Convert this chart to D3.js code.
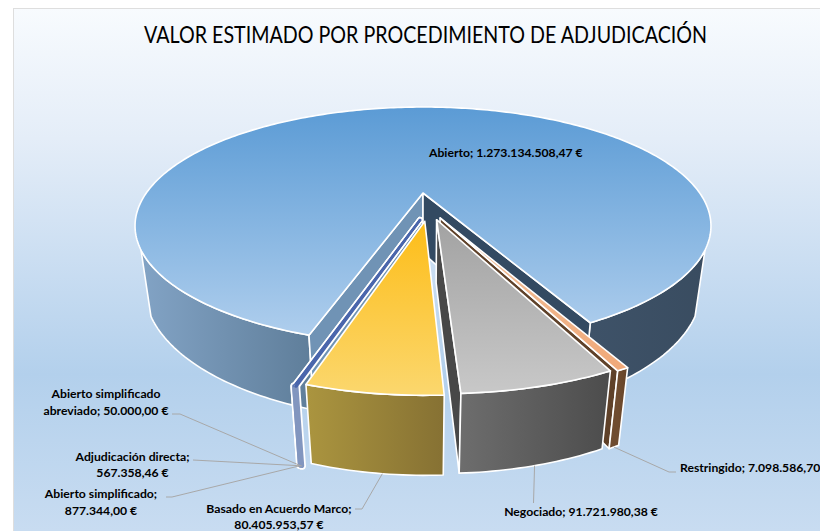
<!DOCTYPE html>
<html><head><meta charset="utf-8">
<script src="https://cdn.jsdelivr.net/npm/d3@7"></script>
<style>html,body{margin:0;padding:0;background:#fff;overflow:hidden}svg{display:block}text{font-family:Lato,"Open Sans",sans-serif}</style>
</head><body><svg id="c" width="820" height="531"></svg>
<script>
const titleText = "VALOR ESTIMADO POR PROCEDIMIENTO DE ADJUDICACIÓN";
const categories = ["Abierto","Restringido","Negociado","Basado en Acuerdo Marco","Adjudicación directa","Abierto simplificado","Abierto simplificado abreviado"];
const values = [1273134508.47,7098586.70,91721980.38,80405953.57,567358.46,877344.00,50000.00];

// ---- layout / style (not data)
const W=820,H=531;
const cam={cx:423,cy:193,A:276.7,B:109.8,Hz:62,p:0.277,q:0.032};
const explode=[[0,0,1],[.058,.214,1],[.046,.228,.985],[.006,.24,.98],[-.01,.23,1],[-.01,.23,1],[-.01,.23,1]];
const labelLayout=[
 {x:429,y:157,anchor:"start",single:true},
 {x:680,y:472,anchor:"start",single:true,from:[676,472],mid:[669,472]},
 {x:581,y:516,anchor:"middle",single:true,from:[533.5,503],mid:null,at:0},
 {x:279,y:[513,529],anchor:"middle",split:true,from:[355,509],mid:[362,509],at:-.05},
 {x:132.5,y:[461,477],anchor:"middle",split:true,from:[193,460],mid:null},
 {x:101,y:[498,515],anchor:"middle",split:true,from:[166,497],mid:[172,497]},
 {x:106,y:[398,415],anchor:"middle",splitWords:2,from:[172,414],mid:[180,414]}
];
const styles=[
 {top:["#5b9bd5","#b2d0ee"]},
 {top:["#f1c4a0","#f0a878"],wall:["#6f4c30","#664428"],cut:"#5f4129"},
 {top:["#a2a2a2","#c8c8c8"],wall:["#6d6d6d","#4c4c4c"],cut:"#484848"},
 {top:["#fdbd18","#fbd76e"],wall:["#ab953f","#867133"]},
 {top:["#4a66ac","#4a66ac"],wall:["#8296bf","#8296bf"],thin:true},
 {top:["#4a66ac","#4a66ac"],wall:["#8296bf","#8296bf"],thin:true},
 {top:["#4a66ac","#4a66ac"],wall:["#8296bf","#8296bf"],thin:true}
];

const rad=d=>d*Math.PI/180;
const svg=d3.select("#c");
const defs=svg.append("defs");
let gid=0;
function grad(c0,c1,x1,y1,x2,y2,extra){
  const id="g"+(gid++);
  const g=defs.append("linearGradient").attr("id",id).attr("gradientUnits","userSpaceOnUse")
    .attr("x1",x1).attr("y1",y1).attr("x2",x2).attr("y2",y2);
  const stops=extra||[[0,c0],[1,c1]];
  stops.forEach(s=>g.append("stop").attr("offset",s[0]).attr("stop-color",s[1]));
  return `url(#${id})`;
}
function proj(X,Y,z){const w=1-cam.p*Y+cam.q*z;return [cam.cx+cam.A*X/w,cam.cy+(cam.B*Y+cam.Hz*z)/w];}
const line=d3.line();
function pt(i,a,r,z){const e=explode[i];const R=r*e[2];return proj(e[0]+R*Math.sin(a),e[1]-R*Math.cos(a),z);}
function rim(i,a0,a1,z){const n=Math.max(2,Math.ceil(Math.abs(a1-a0)/rad(1)));
  return d3.range(n+1).map(k=>pt(i,a0+(a1-a0)*k/n,1,z));}
function face(pts,fill,sw=1.6,st="#fff"){
  return svg.append("path").attr("d",line(pts)+"Z").attr("fill",fill).attr("stroke",st).attr("stroke-width",sw).attr("stroke-linejoin","round");
}

// background
svg.append("rect").attr("x",13.5).attr("y",8.5).attr("width",W).attr("height",H)
  .attr("fill",grad(0,0,0,8,0,531,[[0,"#f8fbfe"],[.25,"#e4edf8"],[.7,"#b3d0ec"],[1,"#c8dcf1"]]))
  .attr("stroke","#dedede");

svg.append("text").attr("transform","translate(425.5,43) scale(0.82,1)").attr("text-anchor","middle")
  .attr("font-size",24).attr("fill","#000").text(titleText);

const arcs=d3.pie().sort(null).value(d=>d).startAngle(rad(-162.34)).endAngle(rad(197.66))(values);
const s0=arcs[0];

// main slice: outer wall, the two front-facing stretches up to the silhouette
const leftEnd=rad(180+63),rightEnd=rad(180-63);
face([...rim(0,s0.startAngle+rad(360),leftEnd,0),...rim(0,leftEnd,s0.startAngle+rad(360),1)],
  grad("#83a4c6","#5f7e9a",137,0,312,0));
face([...rim(0,s0.endAngle,rightEnd,0),...rim(0,rightEnd,s0.endAngle,1)],
  grad("#3e5268","#394c60",590,0,710,0));
// main slice: cut walls
face([pt(0,0,0,0),pt(0,s0.startAngle,1,0),pt(0,s0.startAngle,1,1),pt(0,0,0,1)],"#7093b5");
face([pt(0,0,0,0),pt(0,s0.endAngle,1,0),pt(0,s0.endAngle,1,1),pt(0,0,0,1)],"#334a62");
// main slice: top
face([pt(0,0,0,0),...rim(0,s0.startAngle,s0.endAngle,0)],grad(...styles[0].top,0,107,0,345));

function slice(i){
  const a=arcs[i],st=styles[i];
  if(st.cut) face([pt(i,0,0,0),pt(i,a.endAngle,1,0),pt(i,a.endAngle,1,1),pt(i,0,0,1)],st.cut);
  const xs=[pt(i,a.startAngle,1,0)[0],pt(i,a.endAngle,1,0)[0]];
  const wallFill=grad(...st.wall,Math.min(...xs),0,Math.max(...xs),0);
  const wall=[...rim(i,a.startAngle,a.endAngle,0),...rim(i,a.endAngle,a.startAngle,1)];
  const topPts=[pt(i,0,0,0),...rim(i,a.startAngle,a.endAngle,0)];
  const topFill=grad(...st.top,0,pt(i,0,0,0)[1],0,d3.max(topPts,d=>d[1]));
  if(st.thin){
    face(wall,"#fff",7.5); face(topPts,"#fff",6);
    return ()=>{face(wall,wallFill,4,"#8296bf"); face(topPts,topFill,2.4,"#4a66ac");};
  }
  face(wall,wallFill); face(topPts,topFill);
  return null;
}
slice(1);
[6,5,4].map(slice).filter(Boolean).forEach(f=>f());
slice(3);
slice(2);

// leader lines + labels
const fmt=d3.formatLocale({decimal:",",thousands:".",grouping:[3],currency:["","€"]}).format(",.2f");
const lbl=svg.append("g").attr("font-weight",700).attr("font-size",12.2).attr("fill","#000");
const leaders=svg.append("g").attr("fill","none").attr("stroke","#a8a8a8").attr("stroke-width",1);
arcs.forEach((a,i)=>{
  const L=labelLayout[i],name=categories[i],val=fmt(values[i])+" €";
  let rows;
  if(L.single) rows=[`${name}; ${val}`];
  else if(L.splitWords) rows=[name.split(" ").slice(0,L.splitWords).join(" "),name.split(" ").slice(L.splitWords).join(" ")+"; "+val];
  else rows=[name+";",val];
  const ys=Array.isArray(L.y)?L.y:[L.y];
  rows.forEach((t,k)=>lbl.append("text").attr("x",L.x).attr("y",ys[k]).attr("text-anchor",L.anchor).text(t));
  if(L.from){
    const mid=(a.startAngle+a.endAngle)/2;
    const end=pt(i,mid+(L.at||0)*(a.endAngle-a.startAngle),1,1);
    leaders.append("path").attr("d",line([L.from,...(L.mid?[L.mid]:[]),end]));
  }
});
</script></body></html>
